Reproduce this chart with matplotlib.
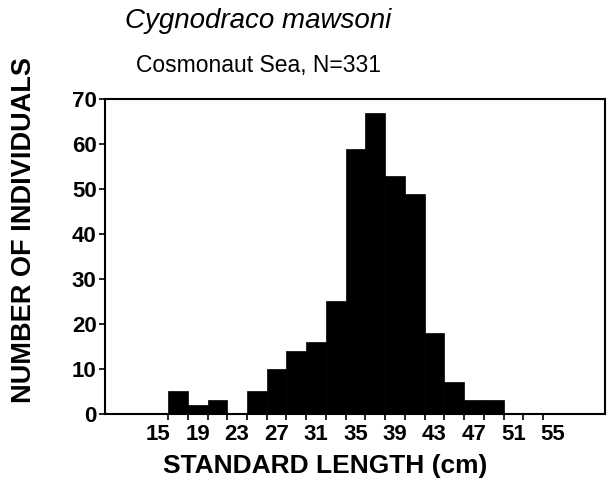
import numpy as np
import matplotlib.pyplot as plt

# length classes (bin centres, cm) and counts
bin_centres = [17, 19, 21, 23, 25, 27, 29, 31, 33, 35, 37, 39, 41, 43, 45, 47, 49]
counts = [5, 2, 3, 0, 5, 10, 14, 16, 25, 59, 67, 53, 49, 18, 7, 3, 3]
label_ticks = [15, 19, 23, 27, 31, 35, 39, 43, 47, 51, 55]
y_ticks = [0, 10, 20, 30, 40, 50, 60, 70]

plt.rcParams['font.family'] = ['Liberation Sans', 'DejaVu Sans']

fig = plt.figure(figsize=(6.10, 4.84), dpi=100)
ax = fig.add_axes([0.172, 0.145, 0.82, 0.65])

ax.bar(bin_centres, counts, width=2.0, color='black', edgecolor='black', linewidth=0.5)

ax.set_xlim(9.6, 60.3)
ax.set_ylim(0, 70)

# labels sit on odd values, tick marks on even class boundaries
ax.set_xticks(label_ticks)
ax.set_xticklabels([str(v) for v in label_ticks], fontsize=16, fontweight='bold')
ax.tick_params(axis='x', which='major', length=0, pad=7)
ax.set_xticks(np.arange(16, 55, 2), minor=True)
ax.tick_params(axis='x', which='minor', length=4, width=1.2, direction='out')

ax.set_yticks(y_ticks)
ax.set_yticklabels([str(v) for v in y_ticks], fontsize=16, fontweight='bold')
ax.tick_params(axis='y', length=4, width=1.2, direction='out', pad=2)

for s in ax.spines.values():
    s.set_linewidth(1.5)

# axis titles are placed on the figure, off-centre as in the original
fig.text(0.533, 0.022, 'STANDARD LENGTH (cm)', ha='center', va='baseline',
         fontsize=19, fontweight='bold')
fig.text(0.040, 0.525, 'NUMBER OF INDIVIDUALS', ha='center', va='center',
         rotation=90, fontsize=19.5, fontweight='bold')

fig.text(0.423, 0.942, 'Cygnodraco mawsoni', ha='center', va='baseline',
         fontsize=20, style='italic')
fig.text(0.423, 0.851, 'Cosmonaut Sea, N=331', ha='center', va='baseline', fontsize=16.5)

fig.savefig('out.png', dpi=100)
